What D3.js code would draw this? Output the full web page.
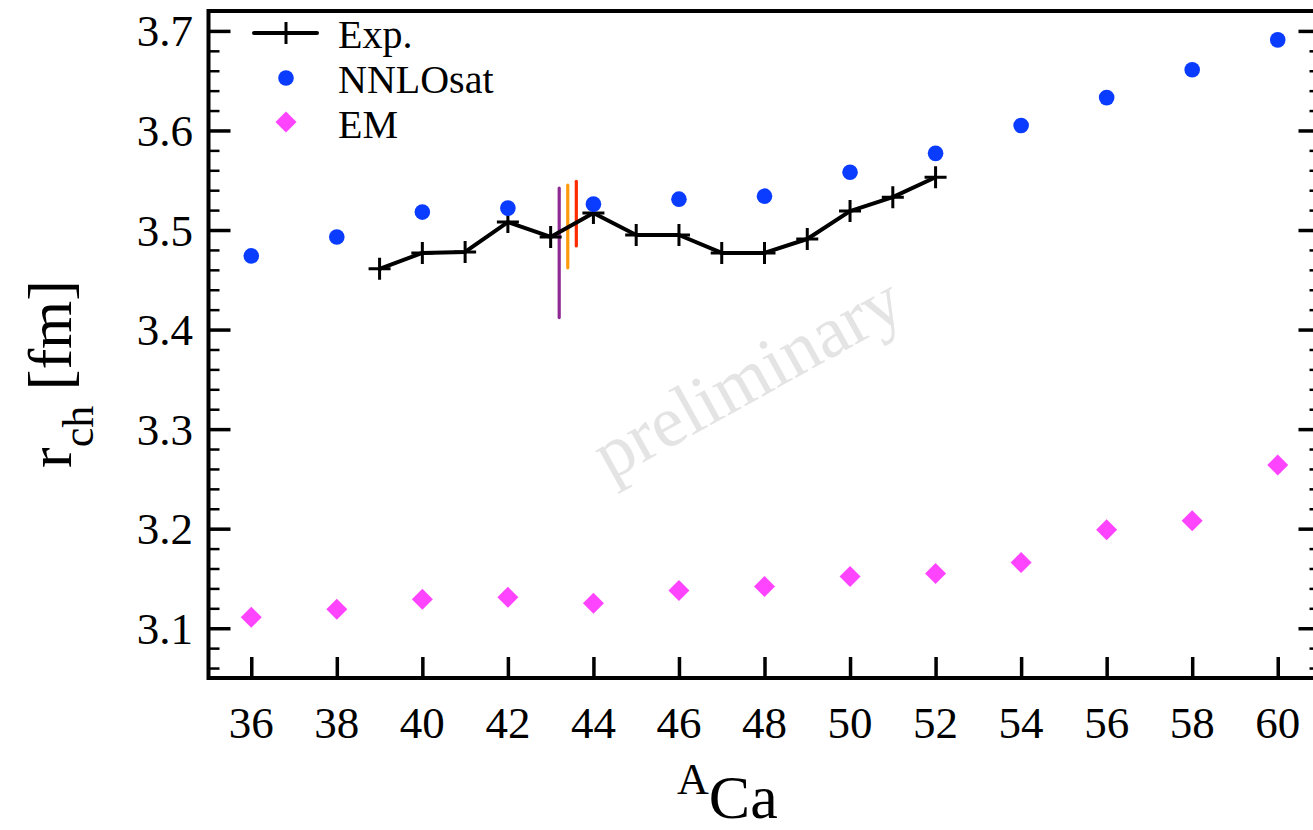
<!DOCTYPE html>
<html>
<head>
<meta charset="utf-8">
<script src="https://cdn.jsdelivr.net/npm/d3@7/dist/d3.min.js"></script>
<style>
  html, body { margin: 0; padding: 0; background: #fff; }
  svg { display: block; }
  text { font-family: "Liberation Serif", "Times New Roman", serif; }
</style>
</head>
<body>
<svg id="chart" width="1313" height="830"></svg>
<script>
// ---- data ----
const expA = [39, 40, 41, 42, 43, 44, 45, 46, 47, 48, 49, 50, 51, 52];
const expR = [3.461, 3.477, 3.478, 3.508, 3.493, 3.517, 3.495, 3.495, 3.477, 3.477, 3.491, 3.519, 3.533, 3.553];

const thA = [36, 38, 40, 42, 44, 46, 48, 50, 52, 54, 56, 58, 60];
const nnloR = [3.474, 3.493, 3.518, 3.522, 3.526, 3.531, 3.534, 3.558, 3.577, 3.605, 3.633, 3.661, 3.691];
const emR = [3.111, 3.119, 3.129, 3.131, 3.125, 3.138, 3.142, 3.152, 3.155, 3.166, 3.199, 3.208, 3.264];

// extra vertical bands near A=43
const barA = [43.2, 43.4, 43.6];
const barLo = [3.412, 3.462, 3.484];
const barHi = [3.542, 3.545, 3.549];
const barColor = ["#8e2a94", "#ff9a0a", "#ff2a00"];

const xTicks = [36, 38, 40, 42, 44, 46, 48, 50, 52, 54, 56, 58, 60];
const yTicks = [3.1, 3.2, 3.3, 3.4, 3.5, 3.6, 3.7];
const legendLabels = ["Exp.", "NNLOsat", "EM"];

// ---- scales ----
const svg = d3.select("#chart");
const x = d3.scaleLinear().domain([35, 61]).range([208.5, 1320.5]);
const y = d3.scaleLinear().domain([3.05, 3.72]).range([678, 11]);

const pL = x(35), pR = x(61), pT = y(3.72), pB = y(3.05);
const blue = "#0a3cff", magenta = "#ff44ff";

// watermark
svg.append("text")
  .attr("transform", "translate(747,377) rotate(-29)")
  .attr("text-anchor", "middle")
  .attr("dominant-baseline", "central")
  .attr("font-size", 73)
  .attr("fill", "#e4e4e4")
  .text("preliminary");

// ---- axes ticks ----
const yMinor = d3.range(3.06, 3.72, 0.02).filter(v => !yTicks.some(t => Math.abs(t - v) < 1e-6));

function styleTicks(g, w) {
  g.select(".domain").remove();
  g.selectAll("line").attr("stroke", "#000").attr("stroke-width", w);
}

svg.append("g").attr("transform", `translate(${pL},0)`)
  .call(d3.axisRight(y).tickValues(yTicks).tickSize(22).tickFormat("")).call(g => styleTicks(g, 3.5));
svg.append("g").attr("transform", `translate(${pL},0)`)
  .call(d3.axisRight(y).tickValues(yMinor).tickSize(11).tickFormat("")).call(g => styleTicks(g, 2.5));
svg.append("g").attr("transform", `translate(${pR},0)`)
  .call(d3.axisLeft(y).tickValues(yTicks).tickSize(22).tickFormat("")).call(g => styleTicks(g, 3.5));
svg.append("g").attr("transform", `translate(${pR},0)`)
  .call(d3.axisLeft(y).tickValues(yMinor).tickSize(11).tickFormat("")).call(g => styleTicks(g, 2.5));
svg.append("g").attr("transform", `translate(0,${pB})`)
  .call(d3.axisTop(x).tickValues(xTicks).tickSize(21).tickFormat("")).call(g => styleTicks(g, 3.5));

// tick labels
svg.append("g").selectAll("text").data(yTicks).join("text")
  .attr("x", 193).attr("y", d => y(d) + 15.5)
  .attr("text-anchor", "end").attr("font-size", 45).attr("fill", "#000")
  .text(d => d.toFixed(1));

svg.append("g").selectAll("text").data(xTicks).join("text")
  .attr("x", d => x(d)).attr("y", 738)
  .attr("text-anchor", "middle").attr("font-size", 45).attr("fill", "#000")
  .text(d => d);

// frame
svg.append("rect")
  .attr("x", pL).attr("y", pT).attr("width", pR - pL).attr("height", pB - pT)
  .attr("fill", "none").attr("stroke", "#000").attr("stroke-width", 4);

// axis labels
const xl = svg.append("text").attr("x", 677).attr("y", 818).attr("fill", "#000");
xl.append("tspan").attr("font-size", 44).attr("dy", -24).text("A");
xl.append("tspan").attr("font-size", 62).attr("dy", 24).text("Ca");

const yl = svg.append("text")
  .attr("transform", "translate(71,374) rotate(-90)")
  .attr("text-anchor", "middle").attr("fill", "#000").attr("font-size", 62);
yl.append("tspan").text("r");
yl.append("tspan").attr("font-size", 44).attr("dy", 22).text("ch");
yl.append("tspan").attr("dy", -22).text(" [fm]");

// ---- data marks ----
svg.append("g").selectAll("line").data(barA).join("line")
  .attr("x1", d => x(d)).attr("x2", d => x(d))
  .attr("y1", (d, i) => y(barLo[i])).attr("y2", (d, i) => y(barHi[i]))
  .attr("stroke", (d, i) => barColor[i]).attr("stroke-width", 3.2)
  .attr("stroke-linecap", "round");

const expData = expA.map((a, i) => [a, expR[i]]);
svg.append("path").datum(expData)
  .attr("d", d3.line().x(d => x(d[0])).y(d => y(d[1])))
  .attr("fill", "none").attr("stroke", "#000").attr("stroke-width", 4)
  .attr("stroke-linejoin", "round");
svg.append("g").selectAll("path").data(expData).join("path")
  .attr("d", d => `M${x(d[0]) - 11},${y(d[1])}H${x(d[0]) + 11}M${x(d[0])},${y(d[1]) - 11}V${y(d[1]) + 11}`)
  .attr("stroke", "#000").attr("stroke-width", 3).attr("fill", "none");

svg.append("g").selectAll("circle").data(thA).join("circle")
  .attr("cx", d => x(d)).attr("cy", (d, i) => y(nnloR[i])).attr("r", 7.8)
  .attr("fill", blue);

const dia = 10.5;
svg.append("g").selectAll("path").data(thA).join("path")
  .attr("d", (d, i) => { const cx = x(d), cy = y(emR[i]); return `M${cx},${cy - dia}L${cx + dia},${cy}L${cx},${cy + dia}L${cx - dia},${cy}Z`; })
  .attr("fill", magenta);

// ---- legend ----
const lg = svg.append("g");
lg.append("line").attr("x1", 254).attr("x2", 317).attr("y1", 33).attr("y2", 33)
  .attr("stroke", "#000").attr("stroke-width", 4).attr("stroke-linecap", "round");
lg.append("line").attr("x1", 286).attr("x2", 286).attr("y1", 22).attr("y2", 44)
  .attr("stroke", "#000").attr("stroke-width", 3);
lg.append("circle").attr("cx", 286).attr("cy", 78).attr("r", 7.8).attr("fill", blue);
lg.append("path").attr("d", `M286,${122 - dia}L${286 + dia},122L286,${122 + dia}L${286 - dia},122Z`).attr("fill", magenta);
lg.selectAll("text.lab").data(legendLabels).join("text")
  .attr("class", "lab")
  .attr("x", 338).attr("y", (d, i) => 48 + i * 45)
  .attr("font-size", 40).attr("fill", "#000")
  .text(d => d);
</script>
</body>
</html>
